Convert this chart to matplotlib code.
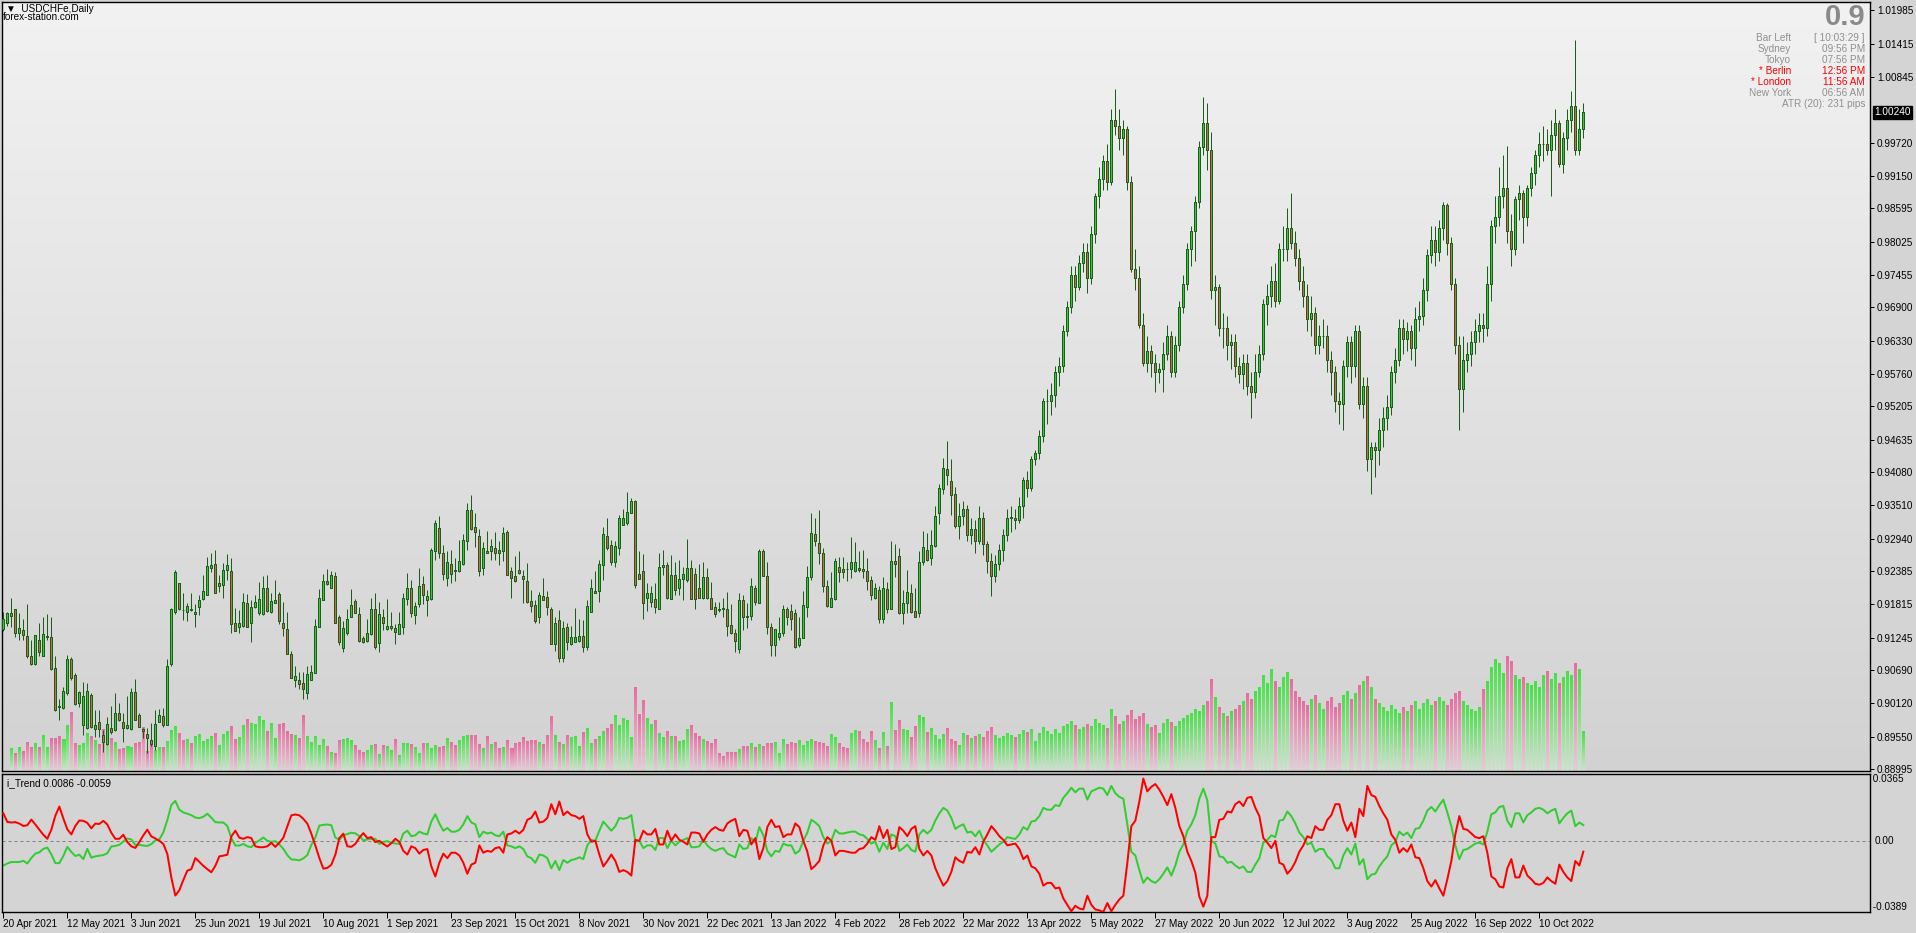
import numpy as np
import matplotlib
matplotlib.use('Agg')
import matplotlib.pyplot as plt
from matplotlib.patches import Rectangle
from matplotlib.collections import LineCollection, PatchCollection

# ---------------- data ----------------
open_ = [.9139,.9149,.9162,.9173,.9133,.9137,.9127,.9093,.9079,.9120,
         .9093,.9125,.9125,.9073,.9007,.9003,.9029,.9087,.9060,.9012,
         .8975,.8969,.9026,.8967,.8979,.8957,.8942,.8969,.8966,.8995,
         .8979,.8969,.8967,.9031,.8991,.8968,.8959,.8949,.8939,.8980,
         .8990,.8975,.9079,.9168,.9217,.9172,.9169,.9173,.9164,.9176,
         .9190,.9198,.9243,.9250,.9212,.9214,.9240,.9238,.9149,.9142,
         .9145,.9183,.9150,.9176,.9167,.9164,.9209,.9168,.9183,.9199,
         .9150,.9139,.9096,.9051,.9052,.9046,.9030,.9051,.9064,.9143,
         .9188,.9221,.9210,.9230,.9159,.9107,.9132,.9160,.9187,.9165,
         .9123,.9119,.9131,.9173,.9115,.9159,.9139,.9140,.9140,.9131,
         .9142,.9190,.9209,.9163,.9182,.9216,.9188,.9190,.9272,.9312,
         .9270,.9226,.9250,.9240,.9239,.9250,.9289,.9343,.9313,.9298,
         .9244,.9273,.9272,.9277,.9274,.9272,.9306,.9238,.9229,.9240,
         .9230,.9221,.9187,.9180,.9160,.9196,.9194,.9173,.9114,.9154,
         .9089,.9142,.9114,.9117,.9119,.9127,.9109,.9169,.9204,.9205,
         .9249,.9298,.9283,.9253,.9277,.9318,.9321,.9338,.9358,.9234,
         .9238,.9192,.9185,.9190,.9173,.9245,.9249,.9190,.9232,.9210,
         .9224,.9223,.9243,.9233,.9210,.9192,.9228,.9193,.9177,.9174,
         .9175,.9173,.9146,.9132,.9104,.9189,.9161,.9162,.9210,.9184,
         .9273,.9230,.9143,.9111,.9126,.9132,.9173,.9170,.9166,.9112,
         .9123,.9177,.9228,.9301,.9286,.9270,.9213,.9177,.9190,.9246,
         .9241,.9242,.9241,.9239,.9243,.9241,.9239,.9223,.9193,.9206,
         .9157,.9207,.9174,.9256,.9264,.9166,.9183,.9200,.9170,.9167,
         .9254,.9274,.9260,.9281,.9338,.9379,.9413,.9393,.9370,.9315,
         .9333,.9345,.9300,.9310,.9290,.9330,.9285,.9255,.9230,.9250,
         .9275,.9300,.9330,.9330,.9325,.9350,.9395,.9380,.9430,.9440,
         .9470,.9530,.9530,.9540,.9580,.9590,.9650,.9690,.9745,.9725,
         .9765,.9785,.9740,.9815,.9880,.9910,.9940,.9905,1.0010,1.0000,
         .9980,.9995,.9905,.9755,.9740,.9660,.9595,.9615,.9595,.9580,
         .9585,.9610,.9640,.9580,.9625,.9690,.9730,.9790,.9820,.9870,
         .9965,1.0005,.9960,.9720,.9725,.9655,.9655,.9625,.9630,.9590,
         .9575,.9595,.9555,.9545,.9580,.9610,.9695,.9710,.9735,.9700,
         .9790,.9790,.9825,.9800,.9775,.9735,.9710,.9670,.9680,.9625,
         .9640,.9640,.9600,.9580,.9530,.9525,.9590,.9630,.9590,.9650,
         .9525,.9555,.9430,.9450,.9445,.9480,.9500,.9520,.9580,.9600,
         .9655,.9635,.9650,.9620,.9670,.9675,.9720,.9780,.9805,.9785,
         .9825,.9865,.9800,.9730,.9625,.9550,.9600,.9610,.9630,.9650,
         .9660,.9655,.9730,.9830,.9845,.9880,.9895,.9820,.9790,.9875,
         .9885,.9845,.9895,.9920,.9950,.9970,.9970,.9960,.9985,1.0005,
         .9935,.9980,1.0010,1.0035,.9960,.9995]
high = [.9169,.9169,.9192,.9173,.9166,.9156,.9182,.9120,.9129,.9149,
        .9160,.9165,.9159,.9093,.9019,.9040,.9095,.9091,.9063,.9033,
        .9049,.9046,.9029,.9000,.9000,.8966,.8988,.9007,.9029,.9012,
        .8995,.9024,.9038,.9053,.8995,.8969,.8969,.8978,.9000,.9002,
        .9003,.9087,.9175,.9240,.9218,.9200,.9183,.9200,.9182,.9197,
        .9232,.9263,.9270,.9274,.9231,.9252,.9268,.9260,.9175,.9172,
        .9200,.9199,.9189,.9197,.9220,.9229,.9232,.9200,.9223,.9203,
        .9186,.9168,.9102,.9076,.9066,.9066,.9076,.9077,.9156,.9207,
        .9234,.9241,.9239,.9237,.9163,.9152,.9174,.9207,.9190,.9177,
        .9127,.9157,.9192,.9200,.9186,.9173,.9190,.9169,.9147,.9169,
        .9200,.9235,.9223,.9186,.9243,.9229,.9206,.9277,.9326,.9333,
        .9283,.9273,.9274,.9260,.9291,.9302,.9355,.9369,.9338,.9311,
        .9288,.9307,.9293,.9306,.9289,.9314,.9309,.9245,.9264,.9273,
        .9240,.9252,.9206,.9189,.9203,.9227,.9205,.9177,.9160,.9172,
        .9152,.9150,.9144,.9175,.9157,.9154,.9188,.9224,.9239,.9257,
        .9313,.9329,.9291,.9290,.9334,.9344,.9373,.9363,.9360,.9273,
        .9267,.9217,.9212,.9218,.9269,.9275,.9253,.9266,.9254,.9257,
        .9246,.9294,.9257,.9243,.9251,.9254,.9243,.9220,.9186,.9186,
        .9192,.9203,.9182,.9139,.9200,.9197,.9183,.9226,.9214,.9276,
        .9276,.9254,.9149,.9139,.9160,.9180,.9177,.9182,.9173,.9160,
        .9204,.9247,.9337,.9329,.9343,.9277,.9223,.9236,.9260,.9262,
        .9263,.9254,.9297,.9288,.9273,.9274,.9260,.9229,.9217,.9212,
        .9228,.9220,.9290,.9285,.9277,.9206,.9240,.9216,.9210,.9273,
        .9307,.9303,.9309,.9350,.9387,.9432,.9461,.9430,.9383,.9354,
        .9358,.9352,.9330,.9325,.9350,.9340,.9290,.9270,.9265,.9285,
        .9310,.9345,.9350,.9345,.9365,.9400,.9410,.9435,.9445,.9480,
        .9535,.9550,.9560,.9590,.9605,.9660,.9700,.9760,.9760,.9780,
        .9800,.9800,.9830,.9885,.9930,.9950,.9970,1.0030,1.0064,1.0030,
        1.0010,1.0000,.9915,.9790,.9760,.9680,.9640,.9625,.9610,.9595,
        .9630,.9660,.9650,.9640,.9700,.9745,.9800,.9830,.9880,.9975,
        1.0050,1.0040,.9990,.9745,.9730,.9680,.9675,.9645,.9645,.9605,
        .9610,.9610,.9580,.9610,.9625,.9705,.9730,.9760,.9765,.9800,
        .9830,.9860,.9886,.9820,.9790,.9760,.9730,.9710,.9690,.9660,
        .9670,.9660,.9615,.9590,.9545,.9600,.9640,.9640,.9660,.9660,
        .9570,.9570,.9460,.9460,.9500,.9520,.9540,.9590,.9620,.9670,
        .9670,.9665,.9660,.9690,.9700,.9740,.9790,.9830,.9830,.9840,
        .9870,.9868,.9810,.9740,.9640,.9640,.9630,.9650,.9670,.9680,
        .9680,.9760,.9840,.9880,.9930,.9950,.9966,.9850,.9880,.9900,
        .9890,.9900,.9930,.9960,.9990,1.0000,.9995,1.0010,1.0030,1.0010,
        .9990,1.0030,1.0060,1.0148,1.0030,1.0040]
low = [.9135,.9145,.9143,.9126,.9120,.9120,.9089,.9077,.9077,.9092,
       .9093,.9120,.9069,.8999,.8984,.9002,.9026,.9052,.9009,.9006,
       .8958,.8967,.8969,.8955,.8955,.8929,.8940,.8959,.8965,.8982,
       .8946,.8967,.8966,.8983,.8971,.8952,.8926,.8939,.8932,.8979,
       .8972,.8974,.9075,.9165,.9172,.9155,.9153,.9170,.9142,.9163,
       .9189,.9197,.9236,.9200,.9203,.9192,.9223,.9133,.9135,.9132,
       .9143,.9142,.9117,.9175,.9163,.9163,.9169,.9166,.9183,.9148,
       .9127,.9096,.9055,.9039,.9037,.9020,.9019,.9051,.9063,.9142,
       .9188,.9214,.9209,.9149,.9112,.9099,.9129,.9159,.9166,.9117,
       .9115,.9117,.9129,.9105,.9100,.9137,.9137,.9137,.9114,.9131,
       .9131,.9180,.9160,.9148,.9176,.9182,.9161,.9188,.9257,.9260,
       .9223,.9213,.9217,.9222,.9237,.9249,.9274,.9309,.9280,.9229,
       .9231,.9270,.9258,.9257,.9249,.9256,.9232,.9193,.9220,.9234,
       .9184,.9184,.9169,.9149,.9149,.9188,.9163,.9113,.9102,.9083,
       .9083,.9103,.9112,.9116,.9116,.9100,.9103,.9169,.9201,.9186,
       .9223,.9274,.9249,.9245,.9266,.9317,.9318,.9338,.9210,.9224,
       .9157,.9170,.9177,.9166,.9173,.9232,.9190,.9190,.9197,.9197,
       .9188,.9220,.9190,.9174,.9192,.9190,.9190,.9173,.9160,.9169,
       .9160,.9127,.9131,.9100,.9098,.9137,.9140,.9154,.9180,.9183,
       .9230,.9131,.9092,.9093,.9120,.9127,.9146,.9137,.9107,.9109,
       .9123,.9159,.9223,.9281,.9250,.9203,.9176,.9176,.9189,.9220,
       .9226,.9222,.9226,.9237,.9237,.9226,.9206,.9189,.9191,.9150,
       .9150,.9167,.9173,.9228,.9165,.9148,.9166,.9167,.9160,.9160,
       .9248,.9256,.9249,.9280,.9319,.9371,.9386,.9334,.9312,.9294,
       .9318,.9290,.9285,.9270,.9285,.9265,.9235,.9195,.9220,.9240,
       .9255,.9290,.9305,.9310,.9320,.9330,.9365,.9375,.9420,.9430,
       .9460,.9490,.9505,.9520,.9555,.9580,.9640,.9680,.9700,.9720,
       .9750,.9715,.9730,.9800,.9860,.9890,.9890,.9900,.9985,.9960,
       .9950,.9890,.9750,.9720,.9655,.9590,.9580,.9570,.9545,.9560,
       .9545,.9600,.9570,.9570,.9615,.9680,.9720,.9760,.9770,.9860,
       .9950,.9925,.9705,.9660,.9640,.9620,.9600,.9585,.9570,.9560,
       .9550,.9540,.9500,.9535,.9570,.9600,.9660,.9690,.9690,.9695,
       .9770,.9770,.9790,.9760,.9720,.9690,.9650,.9640,.9610,.9610,
       .9620,.9580,.9540,.9510,.9490,.9480,.9570,.9560,.9570,.9515,
       .9500,.9410,.9370,.9400,.9420,.9450,.9480,.9505,.9560,.9590,
       .9610,.9615,.9600,.9590,.9650,.9660,.9700,.9765,.9760,.9770,
       .9805,.9780,.9720,.9610,.9480,.9510,.9580,.9590,.9610,.9630,
       .9630,.9640,.9700,.9800,.9830,.9860,.9800,.9760,.9780,.9840,
       .9800,.9830,.9880,.9900,.9930,.9940,.9950,.9880,.9960,.9930,
       .9920,.9960,.9990,.9950,.9950,.9980]
close = [.9156,.9166,.9166,.9132,.9140,.9128,.9092,.9079,.9129,.9100,
         .9131,.9127,.9070,.9000,.9005,.9033,.9087,.9056,.9010,.9031,
         .9024,.9033,.8971,.8975,.8967,.8946,.8976,.8963,.8996,.8984,
         .8969,.8974,.9031,.8984,.8972,.8965,.8952,.8942,.8976,.8992,
         .8974,.9075,.9173,.9237,.9174,.9171,.9178,.9172,.9168,.9188,
         .9204,.9247,.9249,.9201,.9217,.9240,.9249,.9147,.9136,.9149,
         .9185,.9142,.9176,.9186,.9190,.9210,.9170,.9187,.9189,.9152,
         .9140,.9097,.9056,.9059,.9045,.9036,.9062,.9065,.9144,.9193,
         .9222,.9216,.9232,.9150,.9116,.9140,.9157,.9180,.9167,.9119,
         .9116,.9132,.9173,.9109,.9164,.9149,.9144,.9144,.9134,.9148,
         .9192,.9210,.9166,.9178,.9213,.9197,.9196,.9274,.9320,.9270,
         .9233,.9253,.9234,.9239,.9255,.9291,.9343,.9311,.9306,.9239,
         .9277,.9270,.9281,.9270,.9270,.9304,.9232,.9227,.9222,.9235,
         .9225,.9186,.9179,.9152,.9197,.9189,.9177,.9114,.9150,.9089,
         .9140,.9116,.9125,.9125,.9127,.9109,.9178,.9209,.9201,.9250,
         .9302,.9278,.9253,.9281,.9330,.9329,.9339,.9358,.9214,.9225,
         .9183,.9200,.9200,.9176,.9245,.9249,.9193,.9232,.9206,.9224,
         .9233,.9243,.9191,.9190,.9192,.9228,.9193,.9174,.9164,.9172,
         .9174,.9145,.9132,.9119,.9189,.9159,.9159,.9213,.9186,.9273,
         .9230,.9142,.9111,.9139,.9132,.9173,.9159,.9156,.9109,.9123,
         .9180,.9228,.9303,.9290,.9270,.9213,.9179,.9192,.9256,.9236,
         .9236,.9241,.9253,.9253,.9240,.9239,.9222,.9198,.9209,.9157,
         .9209,.9174,.9256,.9250,.9167,.9183,.9202,.9169,.9160,.9253,
         .9279,.9258,.9283,.9333,.9380,.9414,.9403,.9369,.9315,.9333,
         .9345,.9300,.9310,.9290,.9330,.9285,.9255,.9230,.9250,.9275,
         .9300,.9330,.9330,.9325,.9350,.9395,.9380,.9430,.9440,.9470,
         .9530,.9530,.9540,.9580,.9590,.9650,.9690,.9745,.9725,.9765,
         .9785,.9740,.9815,.9880,.9910,.9940,.9905,1.0010,1.0000,.9980,
         .9995,.9905,.9755,.9740,.9660,.9595,.9615,.9595,.9580,.9585,
         .9610,.9640,.9580,.9625,.9690,.9730,.9790,.9820,.9870,.9965,
         1.0005,.9960,.9720,.9725,.9655,.9655,.9625,.9630,.9590,.9575,
         .9595,.9555,.9545,.9580,.9610,.9695,.9710,.9735,.9700,.9790,
         .9790,.9825,.9800,.9775,.9735,.9710,.9670,.9680,.9625,.9640,
         .9640,.9600,.9580,.9530,.9525,.9590,.9630,.9590,.9650,.9525,
         .9555,.9430,.9450,.9445,.9480,.9500,.9520,.9580,.9600,.9655,
         .9635,.9650,.9620,.9670,.9675,.9720,.9780,.9805,.9785,.9825,
         .9865,.9800,.9730,.9625,.9550,.9600,.9610,.9630,.9650,.9660,
         .9655,.9730,.9830,.9845,.9880,.9895,.9820,.9790,.9875,.9885,
         .9845,.9895,.9920,.9950,.9970,.9970,.9960,.9985,1.0005,.9935,
         .9980,1.0010,1.0035,.9960,.9995,1.0024]
volume = [0,0,23,18,24,20,29,24,28,24, 36,24,33,33,35,32,46,59,28,26,
          28,38,35,31,27,42,38,33,29,22, 23,25,24,28,29,44,20,26,21,24,
          24,30,41,45,38,31,32,28,35,37, 30,32,35,38,26,37,40,45,32,34,
          46,52,48,47,55,51,40,48,33,47, 48,40,37,36,33,56,35,29,35,26,
          32,25,19,18,31,32,33,31,26,21, 19,21,26,27,17,26,25,21,32,16,
          28,28,27,24,18,28,28,23,26,24, 25,33,29,26,31,35,36,36,36,27,
          23,35,27,29,23,24,31,23,28,29, 34,30,31,31,29,27,36,55,36,29,
          27,36,34,35,25,39,43,28,32,35, 40,43,47,56,46,53,51,34,84,57,
          71,53,47,51,38,34,40,35,35,30, 31,42,46,38,35,32,30,28,32,18,
          15,19,19,19,22,25,25,28,24,27, 25,28,28,29,18,32,27,29,28,31,
          26,30,32,30,29,28,25,37,34,28, 24,23,38,41,40,32,29,40,31,23,
          39,25,69,41,51,42,41,34,45,56, 54,39,43,36,32,37,43,32,30,26,
          38,36,33,35,37,34,40,44,36,33, 35,38,36,34,37,41,39,42,30,38,
          44,40,37,42,38,45,47,50,46,42, 44,47,45,52,48,46,43,62,55,47,
          50,56,61,52,55,58,47,44,46,38, 48,52,49,45,50,53,56,58,62,60,
          66,70,92,74,64,58,55,60,62,66, 70,78,72,80,84,96,88,102,90,84,
          94,99,92,80,74,70,66,72,76,68, 62,70,74,64,68,76,80,72,78,86,
          90,95,84,72,68,64,60,66,62,58, 64,60,66,70,62,68,72,66,70,74,
          70,66,72,78,80,70,66,62,60,64, 82,90,104,112,108,98,115,110,96,92,
          94,88,86,90,84,96,100,92,98,88, 94,100,96,108,102,40]
trend_green = [-.0135,-.0124,-.0116,-.0116,-.0116,-.0109,-.0124,-.0094,-.0070,-.0063,
               -.0044,-.0037,-.0074,-.0122,-.0122,-.0083,-.0033,-.0061,-.0083,-.0076,
               -.0100,-.0044,-.0092,-.0085,-.0081,-.0078,-.0068,-.0031,-.0028,-.0022,
               -.0004,.0013,.0007,-.0022,-.0022,-.0026,-.0028,-.0018,.0002,.0007,
               .0046,.0113,.0196,.0218,.0170,.0155,.0148,.0140,.0127,.0124,
               .0131,.0148,.0126,.0102,.0100,.0100,.0081,.0015,-.0026,-.0026,
               -.0017,-.0030,-.0035,-.0011,.0002,.0018,.0000,-.0006,-.0002,-.0020,
               -.0044,-.0078,-.0102,-.0103,-.0107,-.0096,-.0078,-.0022,.0018,.0083,
               .0087,.0089,.0085,.0018,.0006,.0030,.0037,.0044,.0041,.0026,
               .0002,.0007,.0011,.0011,-.0017,-.0006,-.0002,-.0011,-.0015,-.0017,
               .0040,.0055,.0025,.0030,.0050,.0040,.0035,.0105,.0145,.0095,
               .0055,.0070,.0050,.0050,.0060,.0090,.0135,.0100,.0090,.0020,
               .0050,.0040,.0045,.0030,.0025,.0050,-.0025,-.0030,-.0040,-.0030,
               -.0045,-.0085,-.0095,-.0120,-.0075,-.0080,-.0095,-.0150,-.0110,-.0160,
               -.0105,-.0120,-.0105,-.0100,-.0090,-.0100,-.0025,.0005,.0000,.0055,
               .0105,.0080,.0055,.0080,.0125,.0120,.0125,.0140,-.0005,.0000,
               -.0040,-.0025,-.0025,-.0050,.0015,.0015,-.0040,.0000,-.0025,-.0005,
               .0005,.0015,-.0035,-.0035,-.0030,.0005,-.0025,-.0045,-.0055,-.0045,
               -.0040,-.0070,-.0080,-.0090,-.0020,-.0045,-.0040,.0015,-.0010,.0075,
               .0030,-.0055,-.0085,-.0055,-.0060,-.0015,-.0025,-.0025,-.0070,-.0055,
               .0000,.0045,.0115,.0100,.0080,.0020,-.0015,.0000,.0060,.0040,
               .0040,.0045,.0050,.0050,.0035,.0030,.0010,-.0015,-.0005,-.0060,
               -.0010,-.0045,.0035,.0025,-.0055,-.0040,-.0020,-.0050,-.0060,.0035,
               .0060,.0040,.0060,.0110,.0150,.0180,.0165,.0125,.0065,.0080,
               .0090,.0045,.0050,.0025,.0055,.0005,-.0025,-.0060,-.0040,-.0020,
               -.0005,.0020,.0015,.0010,.0035,.0075,.0060,.0105,.0110,.0135,
               .0180,.0170,.0170,.0195,.0190,.0235,.0260,.0290,.0265,.0285,
               .0285,.0225,.0270,.0280,.0290,.0285,.0250,.0300,.0260,.0240,
               .0230,.0090,-.0060,-.0080,-.0160,-.0230,-.0200,-.0220,-.0230,-.0210,
               -.0180,-.0145,-.0190,-.0135,-.0060,-.0020,.0055,.0090,.0140,.0230,
               .0285,.0220,.0000,-.0015,-.0085,-.0090,-.0120,-.0115,-.0135,-.0150,
               -.0140,-.0170,-.0170,-.0130,-.0095,-.0010,.0005,.0030,.0020,.0110,
               .0115,.0160,.0135,.0095,.0045,.0020,-.0020,-.0010,-.0060,-.0045,
               -.0045,-.0085,-.0105,-.0150,-.0150,-.0080,-.0040,-.0075,-.0015,-.0130,
               -.0100,-.0210,-.0185,-.0180,-.0140,-.0110,-.0085,-.0025,-.0005,.0050,
               .0030,.0045,.0015,.0065,.0070,.0110,.0165,.0185,.0160,.0195,
               .0225,.0155,.0080,-.0025,-.0100,-.0050,-.0045,-.0030,-.0015,-.0010,
               -.0020,.0050,.0145,.0155,.0185,.0190,.0110,.0075,.0150,.0150,
               .0100,.0140,.0155,.0175,.0180,.0170,.0150,.0165,.0175,.0095,
               .0125,.0150,.0165,.0080,.0100,.0086]
trend_red = [.0150,.0103,.0100,.0102,.0094,.0081,.0085,.0116,.0089,.0061,
             .0033,.0011,.0061,.0137,.0187,.0122,.0063,.0035,.0081,.0111,
             .0109,.0098,.0068,.0094,.0092,.0109,.0089,.0044,.0011,.0011,
             .0033,-.0007,-.0030,-.0039,-.0007,.0030,.0061,.0024,.0013,.0000,
             -.0017,-.0072,-.0201,-.0299,-.0270,-.0214,-.0163,-.0155,-.0094,-.0115,
             -.0137,-.0155,-.0172,-.0137,-.0085,-.0081,-.0076,.0024,.0055,.0017,
             .0011,.0020,.0015,-.0030,-.0035,-.0035,-.0030,-.0011,-.0033,-.0011,
             .0017,.0079,.0139,.0144,.0139,.0120,.0094,.0039,-.0026,-.0094,
             -.0152,-.0148,-.0131,-.0076,.0015,.0039,-.0030,-.0033,-.0017,.0017,
             .0042,.0015,.0020,-.0007,.0000,-.0017,-.0031,-.0013,.0011,-.0006,
             -.0055,-.0075,-.0030,-.0040,-.0070,-.0050,-.0045,-.0140,-.0195,-.0120,
             -.0070,-.0095,-.0065,-.0065,-.0080,-.0120,-.0180,-.0130,-.0120,-.0025,
             -.0065,-.0055,-.0060,-.0040,-.0035,-.0065,.0035,.0040,.0055,.0040,
             .0060,.0115,.0125,.0160,.0100,.0105,.0125,.0200,.0145,.0215,
             .0140,.0160,.0140,.0135,.0120,.0135,.0035,-.0005,.0000,-.0075,
             -.0140,-.0110,-.0075,-.0110,-.0170,-.0160,-.0170,-.0190,.0005,.0000,
             .0055,.0035,.0035,.0065,-.0020,-.0020,.0055,.0000,.0035,.0005,
             -.0005,-.0020,.0045,.0045,.0040,-.0005,.0035,.0060,.0075,.0060,
             .0055,.0095,.0110,.0120,.0025,.0060,.0055,-.0020,.0015,-.0100,
             -.0040,.0075,.0115,.0075,.0080,.0020,.0035,.0035,.0095,.0075,
             .0000,-.0060,-.0155,-.0135,-.0110,-.0025,.0020,.0000,-.0080,-.0055,
             -.0055,-.0060,-.0065,-.0065,-.0045,-.0040,-.0015,.0020,.0005,.0080,
             .0015,.0060,-.0045,-.0035,.0075,.0055,.0025,.0065,.0080,-.0045,
             -.0080,-.0055,-.0080,-.0150,-.0200,-.0245,-.0220,-.0170,-.0090,-.0110,
             -.0120,-.0060,-.0065,-.0035,-.0075,-.0005,.0035,.0080,.0055,.0025,
             .0005,-.0025,-.0020,-.0015,-.0045,-.0100,-.0080,-.0140,-.0150,-.0180,
             -.0245,-.0230,-.0230,-.0260,-.0255,-.0315,-.0350,-.0385,-.0355,-.0370,
             -.0375,-.0300,-.0350,-.0375,-.0380,-.0389,-.0340,-.0385,-.0350,-.0320,
             -.0300,-.0120,.0080,.0110,.0215,.0340,.0270,.0295,.0310,.0280,
             .0240,.0195,.0255,.0180,.0080,.0025,-.0060,-.0110,-.0175,-.0305,
             -.0360,-.0300,.0020,.0020,.0115,.0120,.0160,.0155,.0200,.0215,
             .0190,.0235,.0240,.0180,.0135,.0015,-.0010,-.0040,.0000,-.0120,
             -.0130,-.0180,-.0155,-.0115,-.0060,-.0025,.0025,.0015,.0080,.0060,
             .0060,.0115,.0140,.0200,.0200,.0110,.0055,.0100,.0020,.0175,
             .0135,.0300,.0250,.0240,.0190,.0150,.0115,.0035,.0005,-.0065,
             -.0040,-.0060,-.0020,-.0090,-.0095,-.0150,-.0220,-.0250,-.0215,-.0260,
             -.0300,-.0210,-.0110,.0035,.0135,.0065,.0060,.0040,.0020,.0015,
             .0025,-.0065,-.0195,-.0210,-.0250,-.0255,-.0150,-.0100,-.0200,-.0200,
             -.0135,-.0190,-.0210,-.0235,-.0240,-.0230,-.0200,-.0220,-.0235,-.0130,
             -.0170,-.0200,-.0220,-.0110,-.0135,-.0059]

date_labels = ['20 Apr 2021', '12 May 2021', '3 Jun 2021', '25 Jun 2021', '19 Jul 2021',
               '10 Aug 2021', '1 Sep 2021', '23 Sep 2021', '15 Oct 2021', '8 Nov 2021',
               '30 Nov 2021', '22 Dec 2021', '13 Jan 2022', '4 Feb 2022', '28 Feb 2022',
               '22 Mar 2022', '13 Apr 2022', '5 May 2022', '27 May 2022', '20 Jun 2022',
               '12 Jul 2022', '3 Aug 2022', '25 Aug 2022', '16 Sep 2022', '10 Oct 2022']
date_step = 16
price_ticks = [1.01985, 1.01415, 1.00845, 0.99720, 0.99150, 0.98595, 0.98025, 0.97455,
               0.96900, 0.96330, 0.95760, 0.95205, 0.94635, 0.94080, 0.93510, 0.92940,
               0.92385, 0.91815, 0.91245, 0.90690, 0.90120, 0.89550, 0.88995]
last_price = 1.00240
ind_max, ind_min = 0.0365, -0.0389

# ---------------- layout ----------------
W, H = 1916, 933
DPI = 100
fig = plt.figure(figsize=(W / DPI, H / DPI), dpi=DPI, facecolor='#d4d4d4')
plt.rcParams['font.family'] = ['Liberation Sans', 'DejaVu Sans']
FS = 7.2
PX = 72.0 / DPI  # one pixel in points

def axrect(x0, y0, x1, y1):
    return [x0 / W, 1 - y1 / H, (x1 - x0) / W, (y1 - y0) / H]

ax = fig.add_axes(axrect(2, 2, 1870, 771))
axi = fig.add_axes(axrect(2, 774, 1870, 912))

px_per_bar = 4.0
x0_bar = 3.33
xl = ((2 - x0_bar) / px_per_bar, (1870 - x0_bar) / px_per_bar)
ppu = 5840.0  # pixels per price unit
ytop = 1.01985 + (10.3 - 2) / ppu
ybot = 1.01985 - (771 - 10.3) / ppu

# background gradient of the main window
grad = np.linspace(0, 1, 256).reshape(-1, 1)
top_c = np.array([242, 242, 242]) / 255
bot_c = np.array([210, 210, 210]) / 255
bg = top_c[None, None, :] * (1 - grad[:, :, None]) + bot_c[None, None, :] * grad[:, :, None]
ax.imshow(bg, extent=(xl[0], xl[1], ybot, ytop), aspect='auto', origin='upper', zorder=0)

n = len(close)
idx = np.arange(n)
o = np.array(open_); h = np.array(high); l = np.array(low); c = np.array(close)
v = np.array(volume, dtype=float)
up = c >= o

# volume bars with per-bar gradient
vol_scale = 1.0 / ppu
g = np.linspace(0, 1, 32).reshape(-1, 1, 1)
green_top = np.array([70, 225, 70]) / 255; green_bot = np.array([205, 228, 205]) / 255
pink_top = np.array([232, 110, 160]) / 255; pink_bot = np.array([228, 205, 214]) / 255
grad_g = green_top * (1 - g) + green_bot * g
grad_p = pink_top * (1 - g) + pink_bot * g
for i in idx:
    if v[i] <= 0:
        continue
    ax.imshow(grad_g if up[i] else grad_p, extent=(i - 0.4, i + 0.35, ybot, ybot + v[i] * vol_scale),
              aspect='auto', origin='upper', zorder=1, interpolation='bilinear')

# candles
wick_col = '#1b5e1b'
segs = [[(i, l[i]), (i, h[i])] for i in idx]
ax.add_collection(LineCollection(segs, colors=wick_col, linewidths=PX, zorder=2))
rects = []
fcs = []
for i in idx:
    lo_b = min(o[i], c[i]); hi_b = max(o[i], c[i])
    rects.append(Rectangle((i - 0.25, lo_b), 0.5, max(hi_b - lo_b, 1e-6)))
    fcs.append('#3cc83c' if up[i] else '#c86e46')
ax.add_collection(PatchCollection(rects, facecolors=fcs, edgecolors=wick_col, linewidths=PX, zorder=3))

ax.set_xlim(*xl)
ax.set_ylim(ybot, ytop)
ax.set_xticks([])
ax.yaxis.tick_right()
ax.set_yticks(price_ticks)
ax.set_yticklabels(['%.5f' % t for t in price_ticks])
ax.tick_params(axis='y', direction='out', length=3, width=PX, pad=2, labelsize=FS, colors='black')
for s in ax.spines.values():
    s.set_linewidth(1.4 * PX)
    s.set_color('black')

# current price label
ax.annotate('%.5f' % last_price, xy=(1.0, last_price), xycoords=('axes fraction', 'data'),
            xytext=(3, 0), textcoords='offset points', ha='left', va='center', fontsize=FS,
            color='white', bbox=dict(boxstyle='square,pad=0.15', fc='black', ec='black'),
            annotation_clip=False)

# texts top-left
ax.text(4 / 1868, 1 - 7 / 769, '\u25bc  USDCHFe,Daily', transform=ax.transAxes, fontsize=FS,
        ha='left', va='center', color='black')
ax.text(1 / 1868, 1 - 15 / 769, 'forex-station.com', transform=ax.transAxes, fontsize=FS,
        ha='left', va='center', color='black')

# info panel top-right
fig.text(1865 / W, 1 - 17 / H, '0.9', fontsize=21, fontweight='bold', color='#8a8a8a',
         ha='right', va='center')
rows = [('Bar Left', '[ 10:03:29 ]', '#909090'), ('Sydney', '09:56 PM', '#909090'),
        ('Tokyo', '07:56 PM', '#909090'), ('* Berlin', '12:56 PM', '#ff0000'),
        ('* London', '11:56 AM', '#ff0000'), ('New York', '06:56 AM', '#909090')]
for k, (a, b, col) in enumerate(rows):
    yy = 38 + k * 11
    fig.text(1791 / W, 1 - yy / H, a, fontsize=FS, color=col, ha='right', va='center')
    fig.text(1865 / W, 1 - yy / H, b, fontsize=FS, color=col, ha='right', va='center')
fig.text(1865 / W, 1 - 104 / H, 'ATR (20): 231 pips', fontsize=FS, color='#909090', ha='right', va='center')

# ---------------- indicator window ----------------
axi.set_facecolor('#d4d4d4')
axi.set_xlim(*xl)
axi.set_ylim(ind_min, ind_max)
axi.axhline(0, color='#808080', lw=PX, ls=(0, (3, 3)), zorder=1)
axi.plot(np.arange(len(trend_green)), trend_green, color='#32cd32', lw=2 * PX, zorder=2)
axi.plot(np.arange(len(trend_red)), trend_red, color='#ff0000', lw=2 * PX, zorder=3)
axi.yaxis.tick_right()
axi.set_yticks([])
axi.text(1.0, 1.0, ' 0.0365', transform=axi.transAxes, ha='left', va='top', fontsize=FS)
axi.text(1.0, 0.0, ' -0.0389', transform=axi.transAxes, ha='left', va='bottom', fontsize=FS)
axi.annotate('0.00', xy=(1.0, 0.0), xycoords=('axes fraction', 'data'), xytext=(3, 0),
             textcoords='offset points', ha='left', va='center', fontsize=FS, annotation_clip=False)
axi.text(5 / 1868, 1 - 9 / 138, 'i_Trend 0.0086 -0.0059', transform=axi.transAxes,
         ha='left', va='center', fontsize=FS)
tick_pos = [k * date_step for k in range(len(date_labels))]
axi.set_xticks(tick_pos)
axi.set_xticklabels(date_labels, ha='left')
axi.tick_params(axis='x', direction='out', length=4, width=PX, pad=1, labelsize=FS)
for s in axi.spines.values():
    s.set_linewidth(1.4 * PX)
    s.set_color('black')

fig.savefig('out.png', dpi=DPI, facecolor=fig.get_facecolor())
